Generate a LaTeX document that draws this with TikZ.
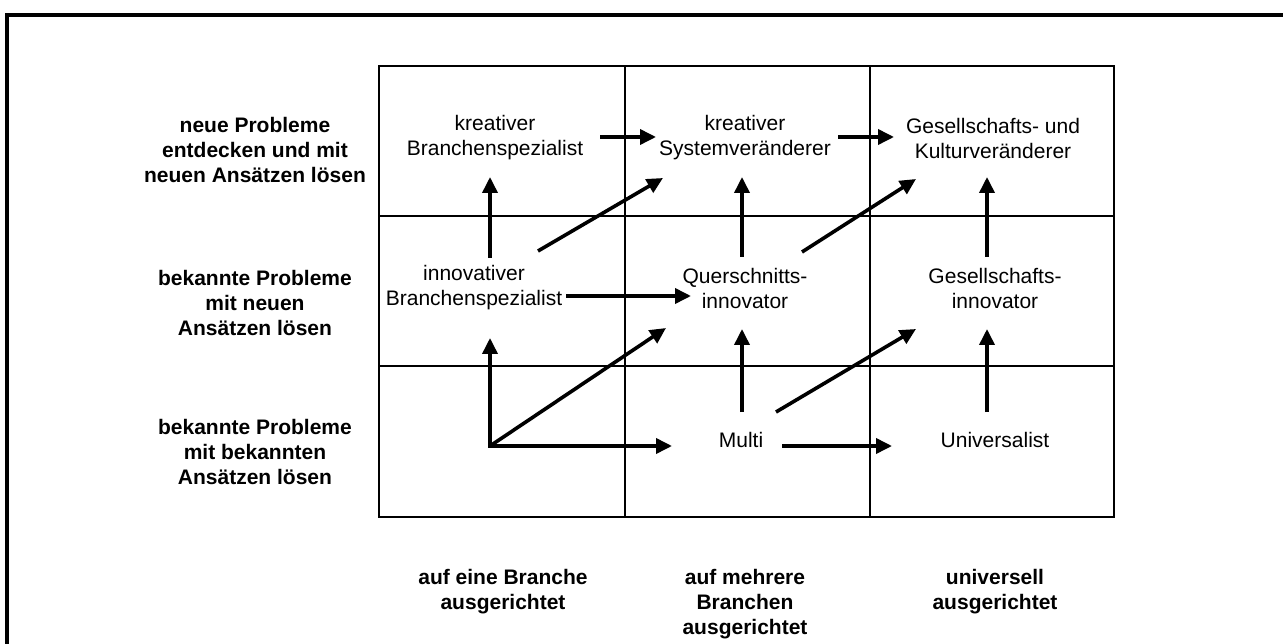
\documentclass[tikz,border=0pt]{standalone}
\usepackage{fontspec}
\setmainfont{Liberation Sans}
\usetikzlibrary{arrows.meta}
\begin{document}
\begin{tikzpicture}[x=1pt,y=-1pt,
  cell/.style={align=center,inner sep=0pt,font=\fontsize{21}{25}\selectfont},
  rowlabel/.style={cell,font=\fontsize{21}{25}\selectfont\bfseries},
  collabel/.style={rowlabel,anchor=north},
  gridline/.style={line width=2pt},
  flow/.style={line width=3.6pt,-{Triangle[length=16pt,width=15pt]}}]
\useasboundingbox (0,0) rectangle (1283,644);

% open frame (top and left edges)
\draw[line width=4pt] (7,644) -- (7,15) -- (1283,15);

% 3x3 matrix
\draw[gridline] (379,66) rectangle (1114,517);
\draw[gridline] (625,66) -- (625,517);
\draw[gridline] (870,66) -- (870,517);
\draw[gridline] (379,216) -- (1114,216);
\draw[gridline] (379,366) -- (1114,366);

% row labels
\node[rowlabel] (r1) at (255,150) {neue Probleme\\entdecken und mit\\neuen Ansätzen lösen};
\node[rowlabel] (r2) at (255,303) {bekannte Probleme\\mit neuen\\Ansätzen lösen};
\node[rowlabel] (r3) at (255,452) {bekannte Probleme\\mit bekannten\\Ansätzen lösen};

% column labels
\node[collabel] (c1) at (503,569) {auf eine Branche\\ausgerichtet};
\node[collabel] (c2) at (745,569) {auf mehrere\\Branchen\\ausgerichtet};
\node[collabel] (c3) at (995,569) {universell\\ausgerichtet};

% cell entries
\node[cell] (kb) at (495,138) {kreativer\\Branchenspezialist};
\node[cell] (ks) at (745,138) {kreativer\\Systemveränderer};
\node[cell] (gk) at (993,138) {Gesellschafts- und\\Kulturveränderer};
\node[cell] (ib) at (474,288) {innovativer\\Branchenspezialist};
\node[cell] (qi) at (745,288) {Querschnitts-\\innovator};
\node[cell] (gi) at (995,288) {Gesellschafts-\\innovator};
\node[cell] (mu) at (741,440) {Multi};
\node[cell] (un) at (995,440) {Universalist};

% arrow end points
\coordinate (kbR)  at (600,137);  \coordinate (ksL)  at (656,137);
\coordinate (ksR)  at (838,137);  \coordinate (gkL)  at (894,137);
\coordinate (ibT)  at (490,258);  \coordinate (kbB)  at (490,177);
\coordinate (ibD)  at (538,251);  \coordinate (ksD)  at (663,178);
\coordinate (qiT)  at (742,257);  \coordinate (ksB)  at (742,177);
\coordinate (qiD)  at (802,252);  \coordinate (gkD)  at (916,179);
\coordinate (giT)  at (987,257);  \coordinate (gkB)  at (987,177);
\coordinate (ibR)  at (566,296);  \coordinate (qiL)  at (691,296);
\coordinate (o)    at (490,446);  \coordinate (ibB)  at (490,338);
\coordinate (qiD2) at (666,328);  \coordinate (muL)  at (672,446);
\coordinate (muT)  at (742,412);  \coordinate (qiB)  at (742,329);
\coordinate (muD)  at (776,412);  \coordinate (giD)  at (916,329);
\coordinate (muR)  at (782,446);  \coordinate (unL)  at (892,446);
\coordinate (unT)  at (987,412);  \coordinate (giB)  at (987,329);

% upper row transitions
\draw[flow] (kbR) -- (ksL);
\draw[flow] (ksR) -- (gkL);
% from middle row to upper row
\draw[flow] (ibT) -- (kbB);
\draw[flow] (ibD) -- (ksD);
\draw[flow] (qiT) -- (ksB);
\draw[flow] (qiD) -- (gkD);
\draw[flow] (giT) -- (gkB);
\draw[flow] (ibR) -- (qiL);
% from the lower row
\draw[flow] (o) -- (ibB);
\draw[flow] (o) -- (qiD2);
\draw[flow] (o) -- (muL);
\fill (o) ++(-1.8,-1.8) rectangle ++(3.6,3.6);
\draw[flow] (muT) -- (qiB);
\draw[flow] (muD) -- (giD);
\draw[flow] (muR) -- (unL);
\draw[flow] (unT) -- (giB);
\end{tikzpicture}
\end{document}
